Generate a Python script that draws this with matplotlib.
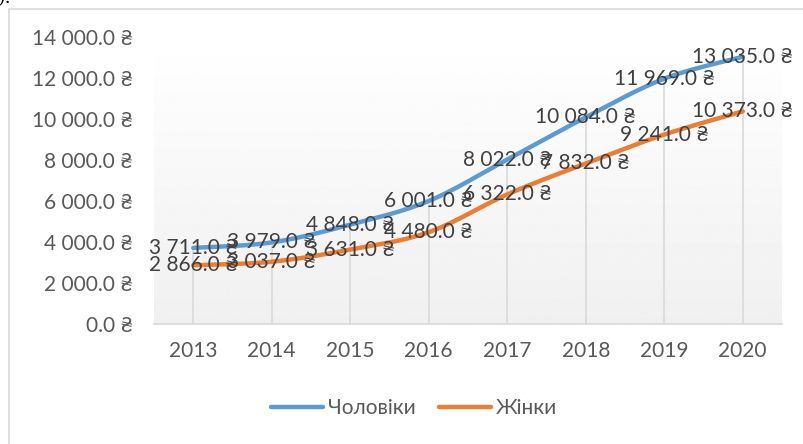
import numpy as np
import matplotlib
matplotlib.use('Agg')
import matplotlib.pyplot as plt
from matplotlib.patches import Rectangle

plt.rcParams['font.family'] = ['Lato', 'Noto Sans', 'DejaVu Sans']

years = ['2013', '2014', '2015', '2016', '2017', '2018', '2019', '2020']
men = [3711, 3979, 4848, 6001, 8022, 10084, 11969, 13035]
women = [2866, 3037, 3631, 4480, 6322, 7832, 9241, 10373]
seriesNames = ['Чоловіки', 'Жінки']
yTicks = [0, 2000, 4000, 6000, 8000, 10000, 12000, 14000]

blue = '#5B9BD5'
orange = '#ED7D31'
textColor = '#595959'


def smooth(x, y, steps=30):
    # catmull-rom curve like excel smoothed line
    x = np.asarray(x, float)
    y = np.asarray(y, float)
    px = np.concatenate([[x[0]], x, [x[-1]]])
    py = np.concatenate([[y[0]], y, [y[-1]]])
    outX, outY = [], []
    t = np.linspace(0, 1, steps)
    for i in range(1, len(px) - 2):
        p0, p1, p2, p3 = [np.array([px[j], py[j]]) for j in range(i - 1, i + 3)]
        c1 = p1 + (p2 - p0) / 6
        c2 = p2 - (p3 - p1) / 6
        pts = ((1 - t) ** 3)[:, None] * p1 + (3 * (1 - t) ** 2 * t)[:, None] * c1 \
            + (3 * (1 - t) * t ** 2)[:, None] * c2 + (t ** 3)[:, None] * p2
        outX.extend(pts[:, 0])
        outY.extend(pts[:, 1])
    return np.array(outX), np.array(outY)


def fmt(v):
    return '{:,.1f}'.format(v).replace(',', ' ') + ' ₴'


fig = plt.figure(figsize=(8.04, 4.44), dpi=100)
fig.patches.append(Rectangle((9 / 804, -0.1), 1.0, 1 - 9 / 444 + 0.1, transform=fig.transFigure,
                             fill=False, edgecolor='#D9D9D9', linewidth=1.2))
fig.text(-0.003, 1.005, ').', fontsize=14, family='DejaVu Serif', va='center', ha='left', color='black')

ax = fig.add_axes([154 / 804, 1 - 324 / 444, (782 - 154) / 804, (324 - 37) / 444])
x = np.arange(len(years))

# gradient background
grad = np.linspace(1.0, 0.94, 256)[:, None]
ax.imshow(grad, cmap='gray', vmin=0, vmax=1, aspect='auto',
          extent=[-0.5, len(years) - 0.5, 0, 14000], zorder=0)

# drop lines
tops = np.maximum(men, women)
ax.vlines(x, 0, tops, color='#D9D9D9', linewidth=1.2, zorder=1)

for vals, color in [(men, blue), (women, orange)]:
    sx, sy = smooth(x, vals)
    ax.plot(sx, sy, color=color, linewidth=3.2, solid_capstyle='round', zorder=3)

for vals in [men, women]:
    for xi, v in zip(x, vals):
        ax.text(xi, v, fmt(v), ha='center', va='center', fontsize=15, color='#404040', zorder=4)

ax.set_xlim(-0.5, len(years) - 0.5)
ax.set_ylim(0, 14000)
ax.set_xticks(x)
ax.set_xticklabels(years)
ax.set_yticks(yTicks)
ax.set_yticklabels([fmt(v) for v in yTicks])
ax.tick_params(axis='both', length=0, labelsize=15, colors=textColor)
ax.tick_params(axis='y', pad=15)
ax.tick_params(axis='x', pad=12)
for side in ['top', 'left', 'right']:
    ax.spines[side].set_visible(False)
ax.spines['bottom'].set_color('#D9D9D9')
ax.spines['bottom'].set_linewidth(1.2)

handles = [plt.Line2D([], [], color=blue, linewidth=3.2, solid_capstyle='round'),
           plt.Line2D([], [], color=orange, linewidth=3.2, solid_capstyle='round')]
leg = fig.legend(handles, seriesNames, loc='center', bbox_to_anchor=(414 / 804, 1 - 408 / 444),
                 ncol=2, frameon=False, fontsize=15, handlelength=2.5, handletextpad=0.25,
                 columnspacing=1.1)
for t in leg.get_texts():
    t.set_color(textColor)

fig.savefig('out.png', dpi=100)
